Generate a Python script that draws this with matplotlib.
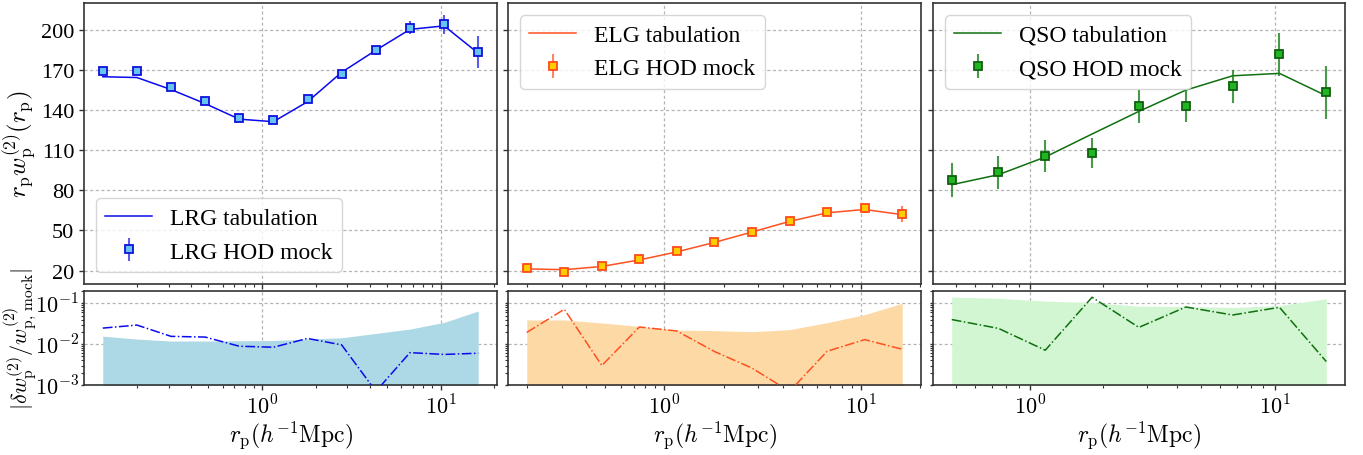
import numpy as np
import matplotlib
matplotlib.use("Agg")
import matplotlib.pyplot as plt
from matplotlib.ticker import FixedLocator, FuncFormatter, LogLocator, NullFormatter

plt.rcParams['font.family'] = 'serif'
plt.rcParams['font.serif'] = ['Liberation Serif', 'DejaVu Serif']
plt.rcParams['mathtext.fontset'] = 'cm'

# ---------------- data ----------------
r_bins = [0.128, 0.199, 0.309, 0.480, 0.745, 1.157, 1.797, 2.79, 4.34, 6.74, 10.47, 16.26]

lrg_r = r_bins
lrg_mock = [169.2, 169.2, 157.4, 146.5, 134.3, 132.3, 148.0, 166.9, 184.8, 201.5, 204.0, 183.6]
lrg_tab = [164.9, 164.3, 155.3, 144.8, 133.2, 131.3, 146.2, 168.2, 184.7, 200.3, 202.9, 182.5]
lrg_rel = [0.0247, 0.0293, 0.0155, 0.0149, 0.0089, 0.0084, 0.0138, 0.0096, 0.0007, 0.0062, 0.0056, 0.0060]
lrg_frac = [0.0157, 0.0133, 0.0119, 0.0119, 0.0121, 0.0123, 0.0133, 0.0143, 0.0183, 0.0234, 0.0341, 0.0647]

elg_r = r_bins[1:]
elg_mock = [21.7, 19.3, 23.2, 28.7, 34.7, 41.4, 48.9, 56.8, 63.6, 66.6, 62.3]
elg_tab = [21.3, 20.7, 23.1, 28.0, 34.0, 41.1, 48.8, 56.8, 63.2, 65.7, 61.8]
elg_rel = [0.0194, 0.0713, 0.0030, 0.0263, 0.0210, 0.0066, 0.0026, 0.0007, 0.0067, 0.0129, 0.0075]
elg_frac = [0.0391, 0.0391, 0.0330, 0.0273, 0.0222, 0.0214, 0.0202, 0.0226, 0.0336, 0.0527, 0.100]

qso_r = r_bins[3:]
qso_mock = [87.7, 93.4, 105.6, 107.9, 142.7, 143.0, 157.7, 181.8, 153.4]
qso_tab = [84.2, 91.7, 104.9, 122.1, 139.0, 154.9, 165.6, 167.4, 150.7]
qso_rel = [0.040, 0.0243, 0.0071, 0.1406, 0.0257, 0.0812, 0.0517, 0.0797, 0.00375]
qso_frac = [0.142, 0.133, 0.113, 0.104, 0.085, 0.084, 0.079, 0.088, 0.129]

y_ticks = [20, 50, 80, 110, 140, 170, 200]

samples = [
    dict(name='LRG', r=lrg_r, mock=lrg_mock, tab=lrg_tab, rel=lrg_rel, frac=lrg_frac,
         line='#0a0aee', face='#66c4f2', edge='#1010dd', ecol=(0.15, 0.15, 0.9, 0.75),
         fill='#add8e6', loc='lower left'),
    dict(name='ELG', r=elg_r, mock=elg_mock, tab=elg_tab, rel=elg_rel, frac=elg_frac,
         line='#ff5020', face='#ffcc00', edge='#ff4a1a', ecol=(1.0, 0.35, 0.15, 0.75),
         fill='#fdd9a6', loc='upper left'),
    dict(name='QSO', r=qso_r, mock=qso_mock, tab=qso_tab, rel=qso_rel, frac=qso_frac,
         line='#0f700f', face='#22b522', edge='#106010', ecol=(0.1, 0.5, 0.1, 0.8),
         fill='#d2f5d2', loc='upper left'),
]

# ---------------- layout ----------------
W, H = 1363, 456
fig = plt.figure(figsize=(W / 100, H / 100), dpi=100)
cols = [(84, 497), (508, 921), (933, 1345)]
top_px = (4, 285)
bot_px = (292, 386)

def box(x0, x1, y0, y1):
    return [x0 / W, 1 - y1 / H, (x1 - x0) / W, (y1 - y0) / H]

log_fmt = FuncFormatter(lambda v, p: r'$10^{%d}$' % int(round(np.log10(v))) if v > 0 else '')
grid_kw = dict(color='#b5b5b5', linestyle=(0, (2.5, 2)), linewidth=0.9)

top_axes, bot_axes = [], []
for i, (s, (x0, x1)) in enumerate(zip(samples, cols)):
    axt = fig.add_axes(box(x0, x1, *top_px),
                       sharey=top_axes[0] if top_axes else None)
    axb = fig.add_axes(box(x0, x1, *bot_px), sharex=axt,
                       sharey=bot_axes[0] if bot_axes else None)
    top_axes.append(axt)
    bot_axes.append(axb)

    r = np.array(s['r'])
    mock = np.array(s['mock'])
    frac = np.array(s['frac'])

    axt.plot(r, s['tab'], color=s['line'], lw=1.1, label=f"{s['name']} tabulation", zorder=3)
    axt.errorbar(r, mock, yerr=frac * mock, fmt='s', ms=5.5, mfc=s['face'], mec=s['edge'],
                 mew=1.3, ecolor=s['ecol'], elinewidth=1.5, capsize=0,
                 label=f"{s['name']} HOD mock", zorder=4)
    axt.set_xscale('log')
    axt.set_ylim(10, 220)
    axt.yaxis.set_major_locator(FixedLocator(y_ticks))
    axt.grid(True, which='major', **grid_kw)
    axt.set_axisbelow(True)
    leg = axt.legend(loc=s['loc'], fontsize=17, framealpha=0.8, edgecolor='#cccccc',
                     handlelength=2.0, borderpad=0.4, labelspacing=0.5, handletextpad=0.75)
    plt.setp(axt.get_xticklabels(), visible=False)

    axb.fill_between(r, 1e-5, frac, color=s['fill'], lw=0, zorder=1)
    axb.plot(r, s['rel'], color=s['line'], lw=1.1, linestyle='-.', zorder=3)
    axb.set_xscale('log')
    axb.set_yscale('log')
    axb.set_ylim(1e-3, 0.2)
    axb.yaxis.set_major_locator(FixedLocator([1e-3, 1e-2, 1e-1]))
    axb.yaxis.set_minor_locator(LogLocator(base=10, subs=np.arange(2, 10)))
    axb.yaxis.set_minor_formatter(NullFormatter())
    axb.yaxis.set_major_formatter(log_fmt)
    axb.xaxis.set_major_formatter(log_fmt)
    axb.xaxis.set_minor_formatter(NullFormatter())
    axb.grid(True, which='major', **grid_kw)
    axb.set_axisbelow(True)
    axb.set_xlabel(r'$r_{\rm p}(h^{-1}{\rm Mpc})$', fontsize=17, labelpad=0)

    for ax in (axt, axb):
        for sp in ax.spines.values():
            sp.set_color('#333333')
            sp.set_linewidth(1.2)
        ax.tick_params(axis='both', which='major', labelsize=16, length=3.5, width=1.0, color='#333333')
        ax.tick_params(axis='both', which='minor', length=2, width=0.8, color='#333333')
    axt.tick_params(axis='y', labelsize=16)
    axb.tick_params(axis='y', which='major', length=2.5, pad=1)
    if i > 0:
        plt.setp(axt.get_yticklabels(), visible=False)
        plt.setp(axb.get_yticklabels(), visible=False)

top_axes[0].set_ylabel(r'$r_{\rm p}w_{\rm p}^{(2)}(r_{\rm p})$', fontsize=18, labelpad=2)
bot_axes[0].set_ylabel(r'$|\delta w_{\rm p}^{(2)}/w_{\rm p,\,mock}^{(2)}|$', fontsize=16)
bot_axes[0].yaxis.set_label_coords(-0.112, 0.5)

fig.savefig('out.png', dpi=100)
